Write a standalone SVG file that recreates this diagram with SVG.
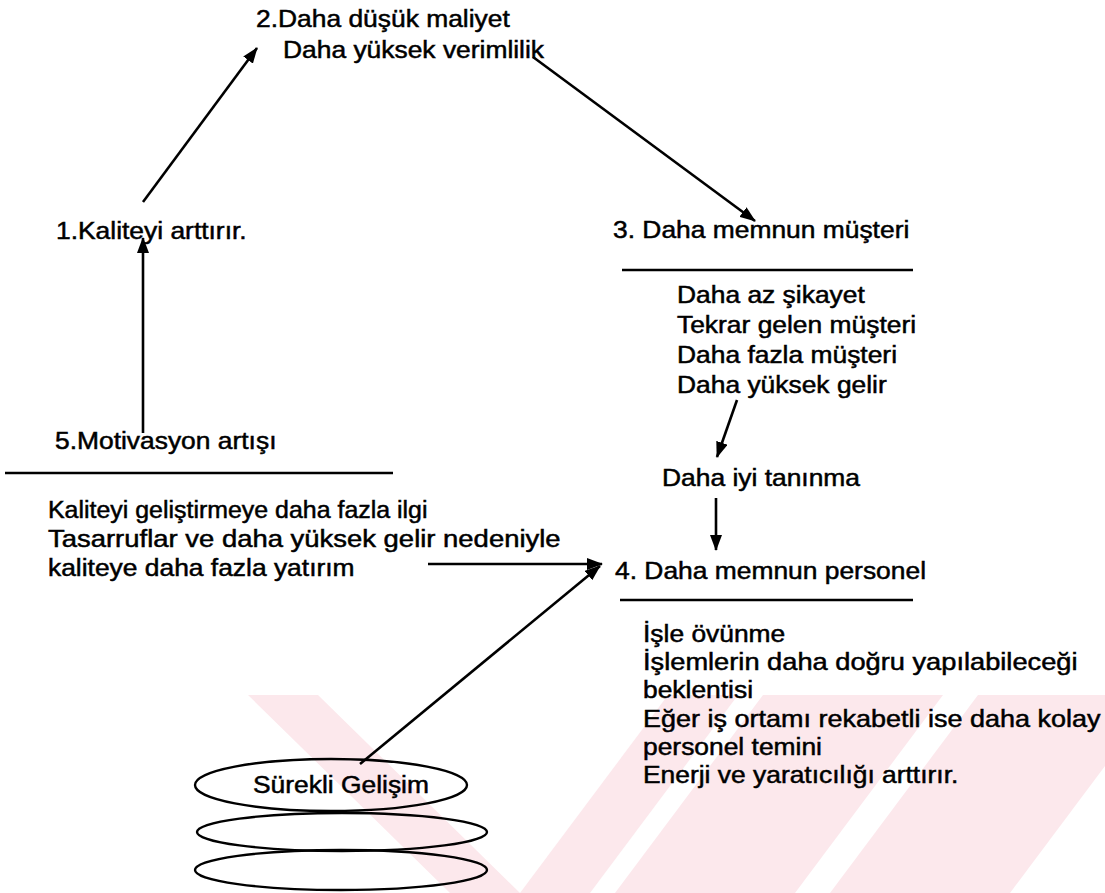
<svg xmlns="http://www.w3.org/2000/svg" width="1105" height="893" viewBox="0 0 1105 893">
<style>
text{font-family:"Liberation Sans",Arial,sans-serif;font-size:24px;fill:#000;stroke:#000;stroke-width:0.5}
.wm{fill:#fce8ec;stroke:none}
.cn{stroke:#000;stroke-width:2.6;fill:none}
.rule{stroke:#000;stroke-width:2.4}
.ell{fill:none;stroke:#000;stroke-width:2.4}
</style>
<defs>
<marker id="ah" viewBox="0 0 16 12" refX="15" refY="6" markerWidth="16" markerHeight="12" orient="auto" markerUnits="userSpaceOnUse"><path d="M0,0 L16,6 L0,12 z" fill="#000"/></marker>
</defs>
<rect width="1105" height="893" fill="#fff"/>
<g id="watermark">
<polygon class="wm" points="248,695 318,695 520,893 450,893"/>
<polygon class="wm" points="520,893 590,893 738,695 668,695"/>
<polygon class="wm" points="615,893 795,893 943,695 763,695"/>
<polygon class="wm" points="830,893 1010,893 1105,766 1105,695 978,695"/>
<polygon class="wm" points="1040,695 1105,695 1105,740"/>
</g>
<g id="connectors">
<line class="cn" x1="143" y1="202" x2="257" y2="48" marker-end="url(#ah)"/>
<line class="cn" x1="533" y1="57" x2="755" y2="221" marker-end="url(#ah)"/>
<line class="cn" x1="737" y1="400" x2="717" y2="457" marker-end="url(#ah)"/>
<line class="cn" x1="716" y1="498" x2="716" y2="550" marker-end="url(#ah)"/>
<line class="cn" x1="143" y1="433" x2="143" y2="238" marker-end="url(#ah)"/>
<line class="cn" x1="428" y1="564" x2="602" y2="564" marker-end="url(#ah)"/>
<line class="cn" x1="360" y1="764" x2="600" y2="566" marker-end="url(#ah)"/>
</g>
<g id="node2">
<text transform="matrix(1.1,0,0,1,256,27)">2.Daha düşük maliyet</text>
<text transform="matrix(1.1,0,0,1,283,58)">Daha yüksek verimlilik</text>
</g>
<g id="node1">
<text transform="matrix(1.1,0,0,1,56,239)">1.Kaliteyi arttırır.</text>
</g>
<g id="node3">
<text transform="matrix(1.1,0,0,1,613,238)">3. Daha memnun müşteri</text>
<line class="rule" x1="622" y1="270" x2="913" y2="270"/>
<text transform="matrix(1.1,0,0,1,677,303)">Daha az şikayet</text>
<text transform="matrix(1.1,0,0,1,677,333)">Tekrar gelen müşteri</text>
<text transform="matrix(1.1,0,0,1,677,363)">Daha fazla müşteri</text>
<text transform="matrix(1.1,0,0,1,677,393)">Daha yüksek gelir</text>
</g>
<g id="tanınma">
<text transform="matrix(1.1,0,0,1,662,486)">Daha iyi tanınma</text>
</g>
<g id="node4">
<text transform="matrix(1.1,0,0,1,615,579)">4. Daha memnun personel</text>
<line class="rule" x1="620" y1="600" x2="913" y2="600"/>
<text transform="matrix(1.1,0,0,1,643,642)">İşle övünme</text>
<text transform="matrix(1.1,0,0,1,643,670)" textLength="395" lengthAdjust="spacingAndGlyphs">İşlemlerin daha doğru yapılabileceği</text>
<text transform="matrix(1.1,0,0,1,643,698)">beklentisi</text>
<text transform="matrix(1.1,0,0,1,643,727)" textLength="416" lengthAdjust="spacingAndGlyphs">Eğer iş ortamı rekabetli ise daha kolay</text>
<text transform="matrix(1.1,0,0,1,643,755)">personel temini</text>
<text transform="matrix(1.1,0,0,1,643,783)">Enerji ve yaratıcılığı arttırır.</text>
</g>
<g id="node5">
<text transform="matrix(1.1,0,0,1,55,449)">5.Motivasyon artışı</text>
<line class="rule" x1="5" y1="473" x2="393" y2="473"/>
<text transform="matrix(1.1,0,0,1,48,518)" textLength="345" lengthAdjust="spacingAndGlyphs">Kaliteyi geliştirmeye daha fazla ilgi</text>
<text transform="matrix(1.1,0,0,1,48,547)" textLength="466" lengthAdjust="spacingAndGlyphs">Tasarruflar ve daha yüksek gelir nedeniyle</text>
<text transform="matrix(1.1,0,0,1,48,576)">kaliteye daha fazla yatırım</text>
</g>
<g id="surekli">
<ellipse class="ell" cx="331" cy="785" rx="136" ry="26"/>
<ellipse class="ell" cx="342" cy="832" rx="145" ry="19"/>
<ellipse class="ell" cx="341" cy="870" rx="146" ry="20"/>
<text transform="matrix(1.1,0,0,1,253,793)">Sürekli Gelişim</text>
</g>
</svg>
